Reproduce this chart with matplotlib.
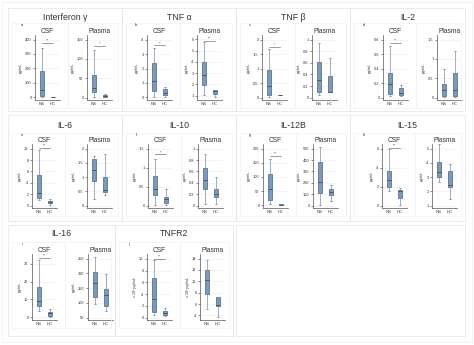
import matplotlib
matplotlib.use('Agg')
import matplotlib.pyplot as plt
from matplotlib.patches import Rectangle

plt.rcParams['font.family'] = ['Liberation Sans', 'DejaVu Sans']

cytokines = ['Interferon γ', 'TNF α', 'TNF β', 'IL-2', 'IL-6',
             'IL-10', 'IL-12B', 'IL-15', 'IL-16', 'TNFR2']
letters = ['a', 'b', 'c', 'd', 'e', 'f', 'g', 'h', 'i', 'j']
units = ['pg/mL'] * 9 + ['x 10³ pg/mL']
groups = ['NS', 'HC']

# box stats: [whislo, q1, median, q3, whishi]
csf_ns = [[2, 10, 48, 181, 343], [0.05, 0.41, 1.14, 2.4, 3.4], [0.03, 0.09, 0.41, 0.97, 1.69],
          [0.03, 0.045, 0.19, 0.34, 0.71], [1.0, 1.4, 2.3, 5.3, 9.8], [0.03, 0.27, 0.45, 0.79, 1.22],
          [3, 17, 59, 109, 162], [1.55, 1.98, 2.74, 3.7, 6.0], [3.75, 6.2, 9.4, 17.2, 32.4],
          [0.4, 1.0, 3.2, 6.8, 9.8]]
csf_hc = [[0, 0.5, 1, 3, 4], [0.02, 0.16, 0.3, 0.57, 0.71], [0.08, 0.09, 0.09, 0.1, 0.1],
          [0.03, 0.04, 0.06, 0.13, 0.18], [0.2, 0.5, 0.7, 0.9, 1.1], [0.02, 0.06, 0.17, 0.24, 0.45],
          [0.5, 1, 2, 3, 4], [0.1, 0.85, 1.55, 1.7, 1.9], [0.0, 0.9, 2.25, 3.2, 4.7],
          [0.2, 0.4, 0.75, 1.15, 1.56]]
plasma_ns = [[2, 14, 25, 58, 123], [1.06, 1.9, 2.8, 3.96, 5.82], [0.04, 0.1, 0.3, 0.62, 0.95],
             [0.02, 0.04, 0.19, 0.36, 0.74], [0.25, 0.86, 1.24, 1.62, 1.74], [0.03, 0.3, 0.45, 0.66, 0.9],
             [9, 114, 206, 386, 510], [2.63, 2.99, 3.36, 4.07, 5.3], [96, 120, 167, 206, 256],
             [5.2, 7.75, 10.25, 12.0, 13.8]]
plasma_hc = [[2, 3, 5, 8, 9], [0.85, 1.1, 1.4, 1.45, 1.5], [0.09, 0.09, 0.1, 0.38, 0.68],
             [0.02, 0.04, 0.21, 0.64, 1.2], [0.39, 0.47, 0.56, 1.02, 1.82], [0.03, 0.15, 0.21, 0.29, 0.51],
             [37, 94, 120, 149, 177], [1.48, 2.3, 2.45, 3.44, 3.9], [74, 89, 126, 148, 198],
             [3.7, 5.6, 5.9, 7.2, 7.27]]

csf_ticks = [[0, 100, 200, 300, 400], [0, 1, 2, 3, 4], [0, 0.5, 1, 1.5, 2], [0, 0.2, 0.4, 0.6, 0.8],
             [0, 2, 4, 6, 8, 10], [0, 0.5, 1, 1.5], [0, 50, 100, 150, 200], [0, 2, 4, 6],
             [0, 10, 20, 30], [0, 2, 4, 6, 8, 10]]
plasma_ticks = [[0, 50, 100, 150], [1, 2, 3, 4, 5, 6], [0, 0.2, 0.4, 0.6, 0.8, 1], [0, 0.5, 1, 1.5],
                [0, 0.5, 1, 1.5, 2], [0, 0.2, 0.4, 0.6, 0.8, 1], [0, 100, 200, 300, 400, 500],
                [1, 2, 3, 4, 5], [50, 100, 150, 200, 250], [4, 6, 8, 10, 12, 14]]

csf_sig = ['**', '*', '*', '**', '**', '*', '**', '**', '**', '**']
csf_sig_y = [375, 3.6, 1.75, 0.76, 10.1, 1.35, 174, 6.07, 33.4, 10.0]
plasma_sig = ['*', '**', '', '', '', '', '', '', '', '']
plasma_sig_y = [134, 5.9, 0, 0, 0, 0, 0, 0, 0, 0]

# layout in pixels: group card (x, y, w, h), then left spine x of CSF / Plasma axes
W, H = 474, 345
cards = [(8, 8, 114, 103), (122, 8, 114, 103), (236, 8, 114, 103), (350, 8, 115, 103),
         (8, 115, 114, 106), (122, 115, 114, 106), (236, 115, 114, 106), (350, 115, 115, 106),
         (8, 225, 107, 111), (115, 225, 118, 111)]
csf_left = [35, 147, 262, 383, 32, 148, 263, 382, 32, 147]
plasma_left = [87, 197, 312, 437, 87, 198, 313, 432, 88, 200]
row_y = {8: (17, 29, 35, 100), 115: (125, 139, 144, 208), 225: (234, 248, 254, 320)}

box_face = '#8099b6'
box_edge = '#4f6d8b'
fig = plt.figure(figsize=(W / 100, H / 100), dpi=100)


def px_rect(x, y, w, h, **kw):
    fig.patches.append(Rectangle((x / W, 1 - (y + h) / H), w / W, h / H,
                                 transform=fig.transFigure, fill=False, **kw))


px_rect(2, 2, 470, 340, edgecolor='#eef1f4', lw=0.6)
px_rect(236, 225, 229, 111, edgecolor='#e4e8ec', lw=0.6)


def draw_panel(ax, ns, hc, ticks, sig, sig_y, title, unit):
    stats = [dict(whislo=s[0], q1=s[1], med=s[2], q3=s[3], whishi=s[4], fliers=[], label=g)
             for s, g in zip([ns, hc], groups)]
    ax.bxp(stats, positions=[1, 2], widths=0.45, patch_artist=True, showfliers=False,
           capwidths=0.22,
           boxprops=dict(facecolor=box_face, edgecolor=box_edge, lw=0.55),
           medianprops=dict(color='#34506b', lw=0.6),
           whiskerprops=dict(color='#7890a8', lw=0.5),
           capprops=dict(color='#7890a8', lw=0.5))
    r = ticks[-1] - ticks[0]
    lo = min(ticks[0] - 0.04 * r, min(ns[0], hc[0]) - 0.05 * r)
    top = ticks[-1] + 0.08 * r
    if sig:
        top = max(top, sig_y + 0.07 * r)
    ax.set_ylim(lo, top)
    ax.set_xlim(0.36, 2.64)
    ax.set_yticks(ticks)
    ax.set_yticklabels(['{:g}'.format(t) for t in ticks])
    ax.set_xticks([1, 2])
    ax.set_xticklabels(groups)
    ax.tick_params(axis='y', labelsize=2.8, length=1.5, width=0.4, pad=1, colors='#333333')
    ax.tick_params(axis='x', labelsize=3.0, length=0, pad=1.5, colors='#333333')
    ax.grid(axis='y', color='#ececec', lw=0.4)
    ax.set_axisbelow(True)
    for s in ['top', 'right']:
        ax.spines[s].set_visible(False)
    for s in ['left', 'bottom']:
        ax.spines[s].set_linewidth(0.5)
        ax.spines[s].set_color('#555555')
    ax.set_ylabel(unit, fontsize=2.7, labelpad=1.5, color='#333333')
    ax.set_title(title, fontsize=4.8, pad=1.5, color='#333333')
    if sig:
        ax.plot([1, 2], [sig_y, sig_y], color='#555555', lw=0.4)
        ax.text(1.5, sig_y, sig, ha='center', va='bottom', fontsize=2.6, color='#333333')


for k in range(len(cytokines)):
    gx, gy, gw, gh = cards[k]
    px_rect(gx, gy, gw, gh, edgecolor='#e4e8ec', lw=0.6)
    t_y, s_y, a_top, a_bot = row_y[gy]
    # sub frames
    split = csf_left[k] + 33
    px_rect(gx + 4, s_y - 6, split - gx - 4, a_bot + 8 - (s_y - 6), edgecolor='#f1f1f1', lw=0.5)
    px_rect(split, s_y - 6, gx + gw - 4 - split, a_bot + 8 - (s_y - 6), edgecolor='#f1f1f1', lw=0.5)
    fig.text((gx + gw / 2) / W, 1 - t_y / H, cytokines[k], ha='center', va='center',
             fontsize=6.3, color='#333333')
    fig.text((gx + 14) / W, 1 - (s_y - 4) / H, letters[k], ha='center', va='center',
             fontsize=3, color='#333333')
    for left, ns, hc, ticks, sig, sy, ttl in [
            (csf_left[k], csf_ns[k], csf_hc[k], csf_ticks[k], csf_sig[k], csf_sig_y[k], 'CSF'),
            (plasma_left[k], plasma_ns[k], plasma_hc[k], plasma_ticks[k], plasma_sig[k],
             plasma_sig_y[k], 'Plasma')]:
        ax = fig.add_axes([left / W, 1 - a_bot / H, 25 / W, (a_bot - a_top) / H])
        draw_panel(ax, ns, hc, ticks, sig, sy, ttl, units[k])

fig.savefig('out.png', dpi=100)
